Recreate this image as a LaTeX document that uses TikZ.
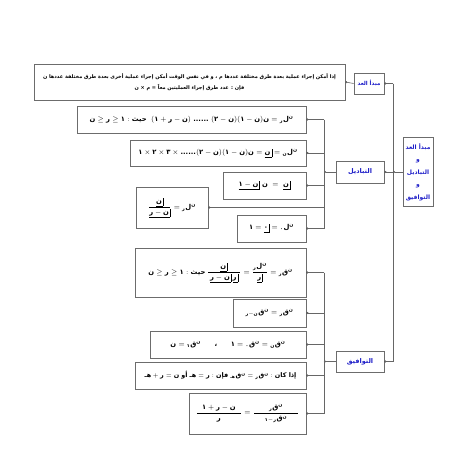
\documentclass[tikz,border=0pt]{standalone}
\usepackage{amsmath}
\usepackage{fontspec}
\usetikzlibrary{arrows.meta}
\TeXXeTstate=1
\newfontfamily\arabicfont[Script=Arabic]{DejaVu Sans}
\definecolor{lblue}{RGB}{30,30,200}
\newcommand\hr[1]{\text{#1}}
\newcommand\lP[2]{{}_{#2}\hr{ل}^{\hr{#1}}}
\newcommand\lQ[2]{{}_{#2}\hr{ق}^{\hr{#1}}}
\newcommand\fct[1]{\hbox{\vtop{\hbox{\strut$#1$\kern1pt}\hrule}\vrule}}
\tikzset{
  frm/.style={draw=gray!85!black, line width=0.8pt, inner sep=0pt,
    font=\fontsize{6.8}{8}\selectfont\arabicfont\bfseries},
  lbl/.style={frm, text=lblue, align=center, font=\fontsize{6.5}{8}\selectfont\arabicfont\bfseries},
  link/.style={draw=gray!80!black, line width=0.6pt},
  tip/.style={link, -{Circle[length=2pt,fill=black]}}
}
\begin{document}
\begin{tikzpicture}[x=1pt,y=-1pt]
    \useasboundingbox (0,0) rectangle (452,452);

    % counting principle
    \node [frm, align=center, minimum width=311pt, minimum height=36pt,
      font=\fontsize{5}{6}\selectfont\arabicfont\bfseries] (rule) at (189.5,82)
      {\beginR إذا أمكن إجراء عملية بعدة طرق مختلفة عددها م ، و في نفس الوقت أمكن إجراء عملية أخرى بعدة طرق مختلفة عددها ن\endR\\[4pt]
       \beginR فإن : عدد طرق إجراء العمليتين معاً = م × ن\endR};
    \node [lbl, minimum width=30pt, minimum height=21pt, font=\fontsize{5.5}{7}\selectfont\arabicfont\bfseries] (count) at (369,83.5) {\beginR مبدأ العد\endR};

    % main box
    \node [lbl, minimum width=30pt, minimum height=69pt,
      font=\fontsize{6}{12.5}\selectfont\arabicfont\bfseries] (main) at (418,172)
      {\beginR مبدأ العد\endR\\و\\التباديل\\و\\التوافيق};
    \node [lbl, minimum width=48pt, minimum height=22pt] (perm) at (360,172) {التباديل};
    \node [lbl, minimum width=48pt, minimum height=21pt] (comb) at (360,361.5) {التوافيق};

    % permutations
    \node [frm, minimum width=229pt, minimum height=27pt] (p1) at (191.5,119.5)
      {$\hr{ن}\ge\hr{ر}\ge\hr{١}:\hr{حيث}\;\;(\hr{١}+\hr{ر}-\hr{ن})\;\hr{......}\;(\hr{٢}-\hr{ن})(\hr{١}-\hr{ن})\hr{ن}=\lP{ن}{\hr{ر}}$};
    \node [frm, minimum width=176pt, minimum height=26pt] (p2) at (218,153)
      {$\hr{١}\times\hr{٢}\times\hr{٣}\times\hr{......}(\hr{٢}-\hr{ن})(\hr{١}-\hr{ن})\hr{ن}=\fct{\hr{ن}}=\lP{ن}{\hr{ن}}$};
    \node [frm, minimum width=83pt, minimum height=27pt] (p3) at (264.5,185.5)
      {$\fct{\hr{١}-\hr{ن}}\;\hr{ن}\;=\;\fct{\hr{ن}}$};
    \node [frm, minimum width=72pt, minimum height=41pt] (p4) at (172,207.5)
      {$\dfrac{\fct{\hr{ن}}}{\fct{\hr{ر}-\hr{ن}}}=\lP{ن}{\hr{ر}}$};
    \node [frm, minimum width=69pt, minimum height=27pt] (p5) at (271.5,228.5)
      {$\hr{١}=\fct{\hr{٠}}=\lP{ن}{\hr{٠}}$};

    % combinations
    \node [frm, minimum width=171pt, minimum height=49pt] (c1) at (220.5,272.5)
      {$\hr{ن}\ge\hr{ر}\ge\hr{١}:\hr{حيث}\,\dfrac{\makebox[32pt]{$\fct{\hr{ن}}$}}{\fct{\hr{ر}-\hr{ن}}\,\fct{\hr{ر}}}=\dfrac{\lP{ن}{\hr{ر}}}{\fct{\hr{ر}}}=\lQ{ن}{\hr{ر}}$};
    \node [frm, minimum width=73pt, minimum height=28pt] (c2) at (269.5,313)
      {$\lQ{ن}{\hr{ر}-\hr{ن}}=\lQ{ن}{\hr{ر}}$};
    \node [frm, minimum width=156pt, minimum height=27pt] (c3) at (228,344.5)
      {$\hr{ن}=\lQ{ن}{\hr{١}}\qquad\hr{،}\qquad\hr{١}=\lQ{ن}{\hr{٠}}=\lQ{ن}{\hr{ن}}$};
    \node [frm, minimum width=171pt, minimum height=27pt,
      font=\fontsize{6.4}{8}\selectfont\arabicfont\bfseries] (c4) at (220.5,375.5)
      {$\hr{هـ}+\hr{ر}=\hr{ن}\;\hr{أو}\;\hr{هـ}=\hr{ر}:\hr{فإن}\;\lQ{ن}{\hr{هـ}}=\lQ{ن}{\hr{ر}}:\hr{\beginR إذا كان\endR}$};
    \node [frm, minimum width=117pt, minimum height=41pt] (c5) at (247.5,413.5)
      {$\dfrac{\makebox[44pt]{$\hr{١}+\hr{ر}-\hr{ن}$}}{\hr{ر}}=\dfrac{\makebox[44pt]{$\lQ{ن}{\hr{ر}}$}}{\lQ{ن}{\hr{١}-\hr{ر}}}$};

    % trunk
    \coordinate (tc) at (393,83.5);
    \coordinate (tp) at (393,172);
    \coordinate (tq) at (393,361.5);
    \draw [link] (tc) -- (tq);
    \draw [tip] (main.west) -- (tp);
    \draw [tip] (tp) -- (perm.east);
    \draw [tip] (tc) -- (count.east);
    \draw [tip] (tq) -- (comb.east);
    \draw [tip] (count.west) -- (rule.east);

    % branch to permutations
    \coordinate (bp) at (324,172);
    \draw [tip] (perm.west) -- (bp);
    \draw [link] (bp |- p1.east) -- (bp |- p5.east);
    \foreach \n in {p1,p2,p3,p4,p5}
      \draw [tip] (bp |- \n.east) -- (\n.east);

    % branch to combinations
    \coordinate (bq) at (324,361.5);
    \draw [tip] (comb.west) -- (bq);
    \draw [link] (bq |- c1.east) -- (bq |- c5.east);
    \foreach \n in {c1,c2,c3,c4,c5}
      \draw [tip] (bq |- \n.east) -- (\n.east);
\end{tikzpicture}
\end{document}
